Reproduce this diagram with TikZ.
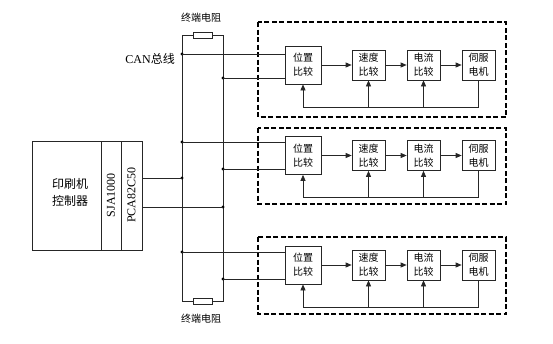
\documentclass[tikz,border=0pt]{standalone}
\usepackage{fontspec}
\setmainfont{Liberation Serif}
\newfontfamily\cjk{Noto Sans CJK SC}
\usetikzlibrary{arrows.meta}
\begin{document}
\begin{tikzpicture}[x=1pt,y=-1pt,
 wire/.style={line width=0.7pt, draw=black!85},
 dot/.style={circle, fill=black, inner sep=0pt, minimum size=3.4pt},
 blk/.style={draw=black!85, line width=0.7pt, fill=white, inner sep=0pt, align=center, font=\cjk\fontsize{10}{14}\selectfont},
 pbox/.style={blk, minimum width=36pt, minimum height=38pt},
 sbox/.style={blk, minimum width=33pt, minimum height=30pt},
 cbox/.style={draw=black!85, line width=0.7pt, inner sep=0pt, minimum height=109pt},
 resbox/.style={draw=black!85, line width=0.7pt, fill=white, inner sep=0pt, minimum width=19pt, minimum height=6pt},
 dbox/.style={draw=black, line width=1.2pt, dash pattern=on 5pt off 2.5pt},
 arr/.style={wire, -{Triangle[length=6pt,width=5pt]}},
 lbl/.style={font=\cjk\fontsize{10}{12}\selectfont, inner sep=0pt},
]
\useasboundingbox (0,0) rectangle (553,343);
% bus
\coordinate (LT) at (182,35);
\coordinate (RT) at (223,35);
\coordinate (LB) at (182,301);
\coordinate (RB) at (223,301);
\node[resbox] (R1) at (202.5,35) {};
\node[resbox] (R2) at (202.5,301) {};
\draw[wire] (R1) -- (LT) -- (LB) -- (R2) -- (RB) -- (RT) -- (R1);
\node[lbl] (T1) at (201,18) {终端电阻};
\node[lbl] (T2) at (201,319) {终端电阻};
\node[anchor=east, inner sep=0pt, font=\fontsize{12}{14}\selectfont] (can) at (175,59) {CAN{\cjk 总线}};
% servo blocks
\foreach \i/\c/\ia/\ib/\fb/\bt/\bb in {1/65/54/78/107/22/117, 2/155.5/142/169/197/128/204, 3/265/252/279/307/237/314} {
  \draw[dbox] (258,\bt) rectangle (506,\bb);
  \node[pbox] (P\i) at (303,\c) {位置\\比较};
  \node[sbox] (V\i) at (368.5,\c) {速度\\比较};
  \node[sbox] (I\i) at (423.5,\c) {电流\\比较};
  \node[sbox] (M\i) at (478.5,\c) {伺服\\电机};
  \draw[arr] (P\i) -- (V\i);
  \draw[arr] (V\i) -- (I\i);
  \draw[arr] (I\i) -- (M\i);
  \coordinate (fr\i) at (M\i.south |- 0,\fb);
  \coordinate (fl\i) at (P\i.south |- 0,\fb);
  \coordinate (fv\i) at (V\i.south |- 0,\fb);
  \coordinate (fi\i) at (I\i.south |- 0,\fb);
  \draw[wire] (M\i.south) -- (fr\i) -- (fl\i);
  \draw[arr] (fl\i) -- (P\i.south);
  \draw[arr] (fv\i) -- (V\i.south);
  \draw[arr] (fi\i) -- (I\i.south);
  \node[dot] (dl\i) at (182,\ia) {};
  \node[dot] (dr\i) at (223,\ib) {};
  \draw[wire] (dl\i.center) -- (P\i.west |- dl\i);
  \draw[wire] (dr\i.center) -- (P\i.west |- dr\i);
}
% controller
\node[cbox, minimum width=69pt] (ctrl) at (66.5,195.5) {};
\node[cbox, minimum width=20pt] (sja) at (111,195.5) {};
\node[cbox, minimum width=21pt] (pca) at (131.5,195.5) {};
\node[align=center, inner sep=0pt, font=\cjk\fontsize{12}{17}\selectfont] (ctxt) at (70,192) {印刷机\\控制器};
\node[rotate=90, inner sep=0pt, font=\fontsize{12}{14}\selectfont] (sjat) at (111,195) {SJA1000};
\node[rotate=90, inner sep=0pt, font=\fontsize{12}{14}\selectfont] (pcat) at (131.5,195) {PCA82C50};
\node[dot] (cl) at (182,178) {};
\node[dot] (cr) at (223,207) {};
\draw[wire] (pca.east |- cl) -- (cl.center);
\draw[wire] (pca.east |- cr) -- (cr.center);
\end{tikzpicture}
\end{document}
